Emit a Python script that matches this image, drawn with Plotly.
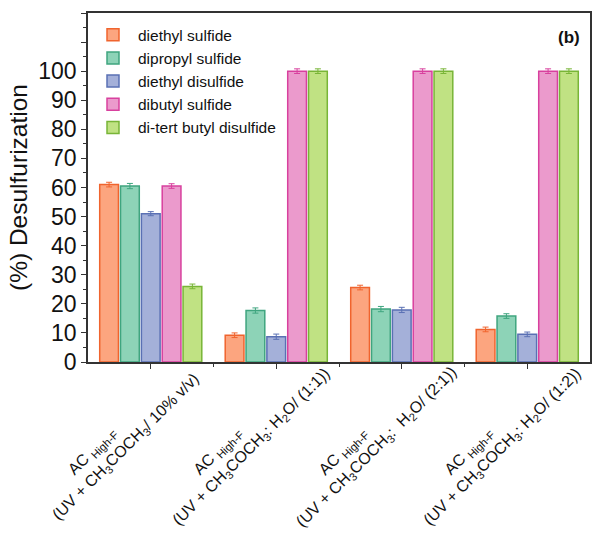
import plotly.graph_objects as go

category_labels = [
    "AC <sub>High-F</sub>" + "&nbsp;" * 12 + "<br>(UV + CH<sub>3</sub>COCH<sub>3</sub>/ 10% v/v)",
    "AC <sub>High-F</sub>" + "&nbsp;" * 12 + "<br>(UV + CH<sub>3</sub>COCH<sub>3</sub>: H<sub>2</sub>O/ (1:1))",
    "AC <sub>High-F</sub>" + "&nbsp;" * 12 + "<br>(UV + CH<sub>3</sub>COCH<sub>3</sub>:  H<sub>2</sub>O/ (2:1))",
    "AC <sub>High-F</sub>" + "&nbsp;" * 12 + "<br>(UV + CH<sub>3</sub>COCH<sub>3</sub>: H<sub>2</sub>O/ (1:2))",
]
series_names = ["diethyl sulfide", "dipropyl sulfide", "diethyl disulfide",
                "dibutyl sulfide", "di-tert butyl disulfide"]
diethyl_sulfide = [61.0, 9.2, 25.6, 11.2]
dipropyl_sulfide = [60.5, 17.7, 18.2, 15.8]
diethyl_disulfide = [51.0, 8.7, 17.9, 9.5]
dibutyl_sulfide = [60.5, 100.0, 100.0, 100.0]
ditert_butyl_disulfide = [26.0, 100.0, 100.0, 100.0]
errors = [
    [0.8, 0.8, 0.8, 0.8],
    [0.9, 0.9, 0.9, 0.8],
    [0.7, 0.9, 0.9, 0.8],
    [0.8, 0.8, 0.8, 0.8],
    [0.8, 0.8, 0.8, 0.8],
]
fills = ["#FCA57F", "#8DD3B7", "#A4B0D9", "#EB9ACC", "#C0E283"]
edges = ["#F0642E", "#3FA57F", "#5A70B4", "#D8409E", "#78B537"]

values = [diethyl_sulfide, dipropyl_sulfide, diethyl_disulfide,
          dibutyl_sulfide, ditert_butyl_disulfide]

x_idx = list(range(len(category_labels)))
fig = go.Figure()
for name, vals, err, fc, ec in zip(series_names, values, errors, fills, edges):
    fig.add_trace(go.Bar(
        x=x_idx, y=vals, name=name,
        marker=dict(color=fc, line=dict(color=ec, width=1.5)),
        error_y=dict(type="data", array=err, color=ec, thickness=1, width=3),
    ))

annotations = [dict(text="<b>(b)</b>", x=0.985, y=0.93, xref="paper", yref="paper",
                    xanchor="right", yanchor="middle", showarrow=False,
                    font=dict(size=17, color="#111"))]
for i, lab in enumerate(category_labels):
    annotations.append(dict(
        text=lab, x=i, y=0, xref="x", yref="paper",
        xanchor="center", yanchor="middle", xshift=-32, yshift=-78,
        textangle=-45, align="center", showarrow=False,
        font=dict(size=16, color="#111"),
    ))

fig.update_layout(
    width=592, height=541,
    margin=dict(l=88, r=2, t=13, b=179),
    paper_bgcolor="white", plot_bgcolor="white",
    barmode="group", bargap=0.17, bargroupgap=0.1,
    font=dict(family="Liberation Sans, Arial", color="#111"),
    showlegend=True,
    legend=dict(x=0.0, y=0.985, xanchor="left", yanchor="top",
                bgcolor="rgba(0,0,0,0)", font=dict(size=15.5),
                itemwidth=40, tracegroupgap=0),
    annotations=annotations,
)
fig.update_xaxes(
    range=[-0.5, 3.5], tickmode="array", tickvals=x_idx, showticklabels=False,
    showline=True, linecolor="#333", linewidth=1.5, mirror=True,
    ticks="outside", ticklen=5, tickcolor="#333",
    minor=dict(tickvals=[0.5, 1.5, 2.5], ticks="outside", ticklen=3, tickcolor="#333"),
    showgrid=False, zeroline=False, automargin=False,
)
ytv = list(range(0, 121, 10))
fig.update_yaxes(
    range=[0, 120], tickmode="array", tickvals=ytv,
    ticktext=[str(v) if v <= 100 else "" for v in ytv],
    tickfont=dict(size=23),
    title=dict(text="(%) Desulfurization", font=dict(size=24.5), standoff=4),
    showline=True, linecolor="#333", linewidth=1.5, mirror=True,
    ticks="outside", ticklen=5, tickcolor="#333",
    minor=dict(dtick=5, ticks="outside", ticklen=3, tickcolor="#333"),
    showgrid=False, zeroline=False, automargin=False,
)

fig.write_html("out.html", config={"displayModeBar": False},
               post_script="document.body.style.margin='0';document.body.style.overflow='hidden';")
